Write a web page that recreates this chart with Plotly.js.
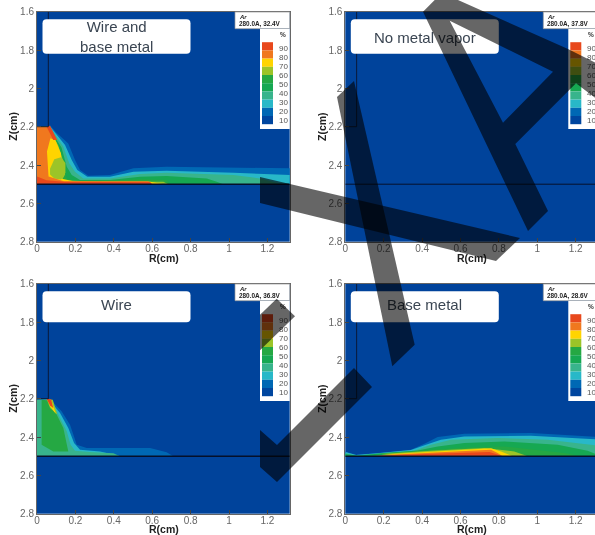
<!DOCTYPE html>
<html>
<head>
<meta charset="utf-8">
<script src="https://cdn.plot.ly/plotly-3.0.0.min.js"></script>
<style>
html,body{margin:0;padding:0;background:#fff;overflow:hidden;width:595px;height:535px}
#wrap{position:relative;width:595px;height:535px;overflow:hidden;filter:blur(0.7px)}
#chart,#marks{position:absolute;left:0;top:0;width:620px;height:535px}
#marks{pointer-events:none}
</style>
</head>
<body>
<div id="wrap"><div id="chart"></div><div id="marks"></div></div>
<script>
// ---------- data ----------
const panelNames = ["Wire and<br>base metal", "No metal vapor", "Wire", "Base metal"];
const runInfo = ["280.0A, 32.4V", "280.0A, 37.8V", "280.0A, 36.8V", "280.0A, 28.6V"];
const gasName = "Ar";
const legendLevels = [90, 80, 70, 60, 50, 40, 30, 20, 10];
const legendColors = ["#e8481c", "#f0781e", "#ffd400", "#9cc428", "#25a843", "#16a852", "#38b48c", "#28b8c8", "#0068b4", "#00469f"];
const xTicks = [0, 0.2, 0.4, 0.6, 0.8, 1, 1.2];
const yTicks = [1.6, 1.8, 2, 2.2, 2.4, 2.6, 2.8];
const plateZ = 2.5;
const wireR = [0.059, 0.059, 0];
const wireZ = [1.6, 2.2, 2.2];

// Wire and base metal: filled bands [colour index, R outline, Z outline]
const wb10R = [0,.059,.068,.1,.163,.198,.224,.267,.38,.502,.675,1.023,1.32,1.32,0];
const wb10Z = [2.2,2.2,2.193,2.23,2.287,2.374,2.426,2.456,2.452,2.417,2.409,2.414,2.417,2.5,2.5];
const wb20R = [0,.059,.065,.146,.181,.21,.262,.38,.502,.675,1.023,1.32,1.32,0];
const wb20Z = [2.2,2.2,2.195,2.296,2.374,2.426,2.461,2.461,2.435,2.43,2.44,2.452,2.5,2.5];
const wb30R = [0,.059,.065,.137,.168,.198,.241,.38,.536,.675,1.023,1.161,1.28,0];
const wb30Z = [2.2,2.2,2.197,2.304,2.391,2.435,2.47,2.47,2.447,2.44,2.452,2.47,2.5,2.5];
const wb40R = [0,.06,.128,.155,.181,.224,.38,.536,.675,.884,.936,.97,0];
const wb40Z = [2.2,2.2,2.31,2.409,2.452,2.478,2.478,2.461,2.457,2.47,2.487,2.5,2.5];
const wb50R = [0,.06,.12,.146,.155,.207,.536,.675,.693,0];
const wb50Z = [2.2,2.2,2.322,2.426,2.47,2.487,2.474,2.478,2.5,2.5];
const wb60R = [0,.06,.111,.137,.146,.13,.33,.658,.684,0];
const wb60Z = [2.2,2.2,2.3,2.38,2.45,2.48,2.487,2.487,2.5,2.5];
const wb70R = [0,.06,.1,.125,.13,.125,.2,.59,.66,0];
const wb70Z = [2.2,2.2,2.28,2.34,2.42,2.47,2.487,2.487,2.5,2.5];
const wbBlobR = [.068,.09,.125,.148,.148,.125,.09,.068];
const wbBlobZ = [2.42,2.37,2.36,2.39,2.44,2.475,2.47,2.45];
const wb80R = [0,.06,.094,.07,.052,.06,.06,.14,.58,.6,0];
const wb80Z = [2.2,2.2,2.27,2.26,2.33,2.42,2.46,2.485,2.484,2.5,2.5];
const wb90aR = [.05,.068,.105,.085,.065];
const wb90aZ = [2.2,2.195,2.27,2.27,2.23];
const wb90bR = [0,.05,.14,.59,.6,0];
const wb90bZ = [2.46,2.48,2.487,2.49,2.5,2.5];

// Wire
const w10R = [0,.059,.064,.128,.172,.207,.259,.398,.589,.675,.71,0];
const w10Z = [2.205,2.205,2.197,2.266,2.336,2.44,2.457,2.457,2.457,2.48,2.5,2.5];
const w20R = [0,.059,.12,.163,.193,.224,.328,.415,.436,0];
const w20Z = [2.205,2.202,2.275,2.353,2.431,2.466,2.475,2.492,2.5,2.5];
const w30R = [0,.059,.111,.155,.175,.198,.276,.398,.432,0];
const w30Z = [2.205,2.205,2.283,2.37,2.44,2.471,2.478,2.485,2.5,2.5];
const w50R = [.024,.059,.094,.137,.163,.085,.024];
const w50Z = [2.205,2.209,2.266,2.353,2.475,2.475,2.44];
const w60R = [.05,.082,.106,.068];
const w60Z = [2.202,2.205,2.283,2.249];
const w70R = [.059,.076,.099,.068];
const w70Z = [2.214,2.214,2.28,2.24];
const w90R = [.05,.073,.085,.068];
const w90Z = [2.2,2.203,2.249,2.235];

// Base metal
const b10R = [0,.056,.168,.342,.42,.481,.62,.967,1.32,1.32,0];
const b10Z = [2.475,2.492,2.483,2.466,2.431,2.4,2.383,2.379,2.4,2.5,2.5];
const b20R = [0,.056,.168,.342,.42,.498,.62,.967,1.32,1.32,0];
const b20Z = [2.478,2.494,2.485,2.468,2.44,2.414,2.397,2.393,2.412,2.5,2.5];
const b30R = [0,.056,.168,.359,.446,.55,.793,1.054,1.32,1.32,0];
const b30Z = [2.483,2.496,2.487,2.471,2.44,2.414,2.405,2.414,2.445,2.5,2.5];
const b40R = [0,.064,.203,.377,.481,.62,.828,1.106,1.262,1.32,1.32,0];
const b40Z = [2.489,2.497,2.483,2.47,2.449,2.431,2.423,2.44,2.471,2.495,2.5,2.5];
const b50R = [.22,.446,.62,.828,1,1.14,1.227];
const b50Z = [2.485,2.466,2.454,2.449,2.466,2.483,2.5];
const b60R = [.186,.446,.724,.88,.95];
const b60Z = [2.488,2.471,2.457,2.475,2.5];
const b70R = [.186,.446,.759,.811,.872];
const b70Z = [2.492,2.478,2.459,2.475,2.5];
const b80R = [.151,.446,.759,.793,.82];
const b80Z = [2.496,2.483,2.466,2.483,2.5];
const b90R = [.134,.446,.75,.785,.814];
const b90Z = [2.498,2.489,2.478,2.488,2.5];

// ---------- page geometry ----------
const W = 620, H = 535;
const plotW = 252.7, plotH = 230;
const lefts = [37, 345.3, 37, 345.3];
const tops = [11.7, 11.7, 283.7, 283.7];
const px = v => v / W, py = v => 1 - v / H;
const bg = "#00439b";

const bands = [
 [[8,wb10R,wb10Z],[7,wb20R,wb20Z],[6,wb30R,wb30Z],[5,wb40R,wb40Z],[4,wb50R,wb50Z],[3,wb60R,wb60Z],[2,wb70R,wb70Z],[3,wbBlobR,wbBlobZ],[1,wb80R,wb80Z],[0,wb90aR,wb90aZ],[0,wb90bR,wb90bZ]],
 [],
 [[8,w10R,w10Z],[7,w20R,w20Z],[6,w30R,w30Z],[4,w50R,w50Z],[3,w60R,w60Z],[2,w70R,w70Z],[0,w90R,w90Z]],
 [[8,b10R,b10Z],[7,b20R,b20Z],[6,b30R,b30Z],[5,b40R,b40Z],[4,b50R,b50Z],[3,b60R,b60Z],[2,b70R,b70Z],[1,b80R,b80Z],[0,b90R,b90Z]]
];

const traces = [], shapes = [], annotations = [];
const layout = {
  width: W, height: H, margin: {l:0,r:0,t:0,b:0}, autosize:false, showlegend:false,
  paper_bgcolor:"#fff", plot_bgcolor:bg, font:{family:"Liberation Sans, Arial, sans-serif", color:"#666"},
  shapes, annotations
};

function rounded(x0,y0,x1,y1,r){
  const X=px, Y=py;
  return `M${X(x0+r)},${Y(y0)} L${X(x1-r)},${Y(y0)} Q${X(x1)},${Y(y0)} ${X(x1)},${Y(y0+r)} L${X(x1)},${Y(y1-r)} Q${X(x1)},${Y(y1)} ${X(x1-r)},${Y(y1)} L${X(x0+r)},${Y(y1)} Q${X(x0)},${Y(y1)} ${X(x0)},${Y(y1-r)} L${X(x0)},${Y(y0+r)} Q${X(x0)},${Y(y0)} ${X(x0+r)},${Y(y0)} Z`;
}
function addRect(x0,y0,x1,y1,fill,lineColor){
  shapes.push({type:"rect",xref:"paper",yref:"paper",x0:px(x0),x1:px(x1),y0:py(y1),y1:py(y0),fillcolor:fill,line:{width:lineColor?0.7:0,color:lineColor||fill},layer:"above"});
}
function addText(x,y,text,size,color,bold,anchor,angle){
  annotations.push({xref:"paper",yref:"paper",x:px(x),y:py(y),xanchor:anchor||"center",yanchor:"middle",showarrow:false,textangle:angle||0,
    text:bold?`<b>${text}</b>`:text,font:{size,color,family:"Liberation Sans, Arial, sans-serif"}});
}

const textY = [24.5, 26, 20.5, 20.5];
const rTitleY = [246.5, 246.5, 245, 245];

panelNames.forEach((name,i)=>{
  const s = i===0?"":String(i+1);
  const L = lefts[i], T = tops[i];
  layout["xaxis"+s] = {domain:[px(L),px(L+plotW)],range:[0,1.316],anchor:"y"+s,tickmode:"array",tickvals:xTicks,ticktext:xTicks.map(String),
    ticks:"inside",ticklen:4,tickcolor:"#444",ticklabelstandoff:-3,tickfont:{size:10,color:"#666"},showgrid:false,zeroline:false,showline:true,mirror:true,linecolor:"#666",linewidth:1};
  layout["yaxis"+s] = {domain:[py(T+plotH),py(T)],range:[2.8,1.6],anchor:"x"+s,tickmode:"array",tickvals:yTicks,ticktext:yTicks.map(String),
    ticks:"inside",ticklen:4,tickcolor:"#444",ticklabelstandoff:0,tickfont:{size:10,color:"#666"},showgrid:false,zeroline:false,showline:true,mirror:true,linecolor:"#666",linewidth:1};

  bands[i].forEach(([c,R,Z])=>{
    traces.push({type:"scatter",mode:"lines",x:R,y:Z,xaxis:"x"+s,yaxis:"y"+s,fill:"toself",fillcolor:legendColors[c],line:{width:0},hoverinfo:"skip"});
  });
  traces.push({type:"scatter",mode:"lines",x:wireR,y:wireZ,xaxis:"x"+s,yaxis:"y"+s,line:{color:"#0a1a3a",width:1},hoverinfo:"skip"});
  traces.push({type:"scatter",mode:"lines",x:[0,1.316],y:[plateZ,plateZ],xaxis:"x"+s,yaxis:"y"+s,line:{color:"#05102a",width:i===1?1:1.4},hoverinfo:"skip"});

  // axis titles
  addText(L+126.5,T+rTitleY[i],"R(cm)",10.5,"#222",true);
  addText(L-23.5,T+114.5,"Z(cm)",10.5,"#222",true,"center",-90);

  // name box
  shapes.push({type:"path",xref:"paper",yref:"paper",path:rounded(L+5.5,T+7.5,L+153.5,T+(i<2?42:38.5),4),fillcolor:"#fff",line:{width:0},layer:"above"});
  addText(L+79.5,T+textY[i],name,15,"#3a4552",false);

  // run info and contour legend
  addRect(L+198,T+0.3,L+252.7,T+17,"#fff","#999");
  addRect(L+223,T+17.3,L+252.7,T+117.3,"#fff");
  addText(L+200,T+5,`<i>${gasName}</i>`,6,"#222",true,"left");
  addText(L+200,T+12,runInfo[i],6.4,"#222",true,"left");
  addText(L+246,T+23,"%",6.5,"#333",true);
  const rowH = 8.2, y0 = T+30.5;
  legendColors.forEach((col,k)=>addRect(L+225,y0+k*rowH,L+236,y0+(k+1)*rowH,col));
  legendLevels.forEach((lvl,k)=>addText(L+240,y0+6+k*9,String(lvl),8,"#555",false,"left"));
});

Plotly.newPlot("chart",traces,layout,{staticPlot:true,displayModeBar:false});

// translucent dark strokes lying over the whole figure
const dark = "rgba(0,0,0,0.6)";
const strokes = [
  "M434.7,0 L458,0 L568,49 L620,75 L620,117 L576,83.3 L515.3,144 L548,211 L528,231 L423,11.7 Z M449.7,20.7 L503,122.7 L553,71.7 Z",
  "M337,97 L354,81 L414.7,344.7 L392.3,366.3 Z",
  "M260,177 L520,238 L496,261 L260,203 Z",
  "M260,430 L277,445 L354,368 L372,387 L277,482 L260,467 Z",
  "M276.7,298.7 L295,316.3 L260,350.3 L260,314.7 Z"
];
const toPaper = d => d.replace(/(-?[\d.]+),(-?[\d.]+)/g,(m,a,b)=>`${px(+a)},${py(+b)}`);
const overlay = strokes.map(d=>({type:"path",xref:"paper",yref:"paper",path:toPaper(d),fillcolor:dark,line:{width:0},layer:"above"}));
Plotly.newPlot("marks",[],{width:W,height:H,margin:{l:0,r:0,t:0,b:0},paper_bgcolor:"rgba(0,0,0,0)",plot_bgcolor:"rgba(0,0,0,0)",
  xaxis:{visible:false},yaxis:{visible:false},shapes:overlay},{staticPlot:true,displayModeBar:false});
</script>
</body>
</html>
